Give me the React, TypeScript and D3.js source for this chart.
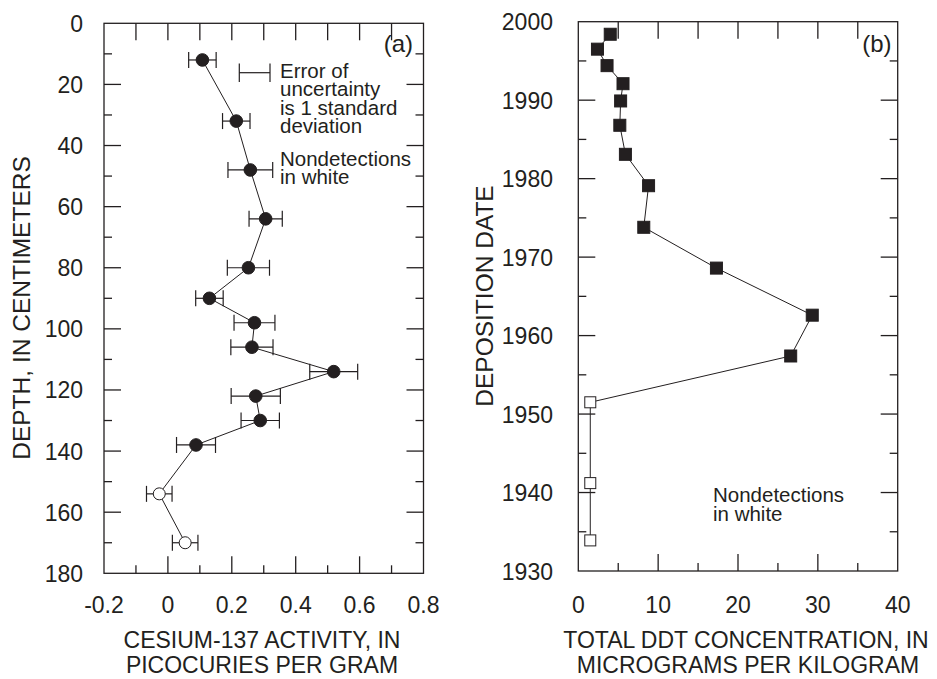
import React from "react";
import * as d3 from "d3";

// Panel (a) data
const depthA = [12, 32, 48, 64, 80, 90, 98, 106, 114, 122, 130, 138, 154, 170];
const cesium = [0.108, 0.214, 0.258, 0.306, 0.252, 0.13, 0.271, 0.263, 0.519, 0.275, 0.289, 0.088, -0.027, 0.054];
const cesiumErr = [0.043, 0.043, 0.07, 0.052, 0.066, 0.043, 0.064, 0.066, 0.075, 0.077, 0.06, 0.061, 0.04, 0.04];
const cesiumDetected = [true, true, true, true, true, true, true, true, true, true, true, true, false, false];
const xTicksA = [-0.2, 0, 0.2, 0.4, 0.6, 0.8];
const yTicksA = [0, 20, 40, 60, 80, 100, 120, 140, 160, 180];

// Panel (b) data
const years = [1998.4, 1996.5, 1994.4, 1992.1, 1989.9, 1986.8, 1983.1, 1979.1, 1973.8, 1968.6, 1962.6, 1957.4, 1951.5, 1941.2, 1933.9];
const ddt = [4.0, 2.4, 3.6, 5.6, 5.3, 5.2, 5.9, 8.8, 8.2, 17.3, 29.3, 26.6, 1.5, 1.5, 1.5];
const ddtDetected = [true, true, true, true, true, true, true, true, true, true, true, true, false, false, false];
const xTicksB = [0, 10, 20, 30, 40];
const yTicksB = [1930, 1940, 1950, 1960, 1970, 1980, 1990, 2000];

const legendA1 = ["Error of", "uncertainty", "is 1 standard", "deviation"];
const legendNd = ["Nondetections", "in white"];

const C = "#231f20";
const FONT = "'Liberation Sans', Arial, Helvetica, sans-serif";

const A = { left: 104, right: 423.5, top: 23.3, bottom: 573.3 };
const B = { left: 578.3, right: 897.7, top: 21.7, bottom: 571 };

function Lines({ x, y, lines, dy }: { x: number; y: number; lines: string[]; dy: number }) {
  return (
    <text x={x} y={y}>
      {lines.map((l, i) => (
        <tspan key={i} x={x} dy={i === 0 ? 0 : dy}>
          {l}
        </tspan>
      ))}
    </text>
  );
}

export default function App() {
  const xa = d3.scaleLinear().domain([-0.2, 0.8]).range([A.left, A.right]);
  const ya = d3.scaleLinear().domain([0, 180]).range([A.top, A.bottom]);
  const xb = d3.scaleLinear().domain([0, 40]).range([B.left, B.right]);
  const yb = d3.scaleLinear().domain([1930, 2000]).range([B.bottom, B.top]);

  const lineA = d3.line<number>().x((_, i) => xa(cesium[i])).y((d) => ya(d));
  const lineB = d3.line<number>().x((_, i) => xb(ddt[i])).y((d) => yb(d));

  const near = (a: number, b: number) => Math.abs(a - b) < 1e-6;

  const xMinorA = d3.range(-0.1, 0.75, 0.1);
  const yMinorA = d3.range(10, 180, 10);
  const xMinorB = d3.range(5, 40, 5);
  const yMinorB = d3.range(1935, 2000, 5);

  return (
    <svg
      width={937}
      height={679}
      style={{ position: "absolute", left: 0, top: 0, background: "#fff" }}
      fontFamily={FONT}
    >
      <rect x={0} y={0} width={937} height={679} fill="#fff" />
      {/* ---------- Panel (a) ---------- */}
      <g stroke={C} strokeWidth={1.3} fill="none">
        <rect x={A.left} y={A.top} width={A.right - A.left} height={A.bottom - A.top} />
        {xMinorA.map((v, i) => {
          const major = xTicksA.some((t) => near(t, v));
          const x = xa(v);
          return (
            <g key={"xa" + i}>
              <line x1={x} x2={x} y1={A.top} y2={A.top + 17} />
              <line x1={x} x2={x} y1={A.bottom} y2={A.bottom - (major ? 17 : 8)} />
            </g>
          );
        })}
        {yMinorA.map((v, i) => {
          const major = yTicksA.some((t) => near(t, v));
          const y = ya(v);
          const len = major ? 17 : 8;
          return (
            <g key={"ya" + i}>
              <line x1={A.left} x2={A.left + len} y1={y} y2={y} />
              <line x1={A.right} x2={A.right - len} y1={y} y2={y} />
            </g>
          );
        })}
      </g>
      <g fill={C} fontSize={23}>
        {xTicksA.map((t) => (
          <text key={"xl" + t} x={xa(t)} y={613} textAnchor="middle">
            {String(Math.round(t * 10) / 10)}
          </text>
        ))}
        {yTicksA.map((t) => (
          <text key={"yl" + t} x={83} y={ya(t) + 8.5} textAnchor="end">
            {t}
          </text>
        ))}
        <text x={262} y={648} textAnchor="middle">CESIUM-137 ACTIVITY, IN</text>
        <text x={262} y={673} textAnchor="middle">PICOCURIES PER GRAM</text>
        <text transform={`translate(30,308) rotate(-90)`} textAnchor="middle" fontSize={24.5}>
          DEPTH, IN CENTIMETERS
        </text>
        <text x={413} y={52} textAnchor="end" fontSize={24}>(a)</text>
      </g>
      {/* legend a */}
      <g stroke={C} strokeWidth={1.2}>
        <line x1={239.3} x2={270} y1={72.7} y2={72.7} />
        <line x1={239.3} x2={239.3} y1={63.5} y2={82} />
        <line x1={270} x2={270} y1={63.5} y2={82} />
      </g>
      <g fill={C} fontSize={20.5}>
        <Lines x={280} y={78} lines={legendA1} dy={18.3} />
        <Lines x={280} y={165.5} lines={legendNd} dy={18} />
      </g>
      {/* data a */}
      <path d={lineA(depthA) || ""} fill="none" stroke={C} strokeWidth={1} />
      <g stroke={C} strokeWidth={1.2}>
        {depthA.map((d, i) => {
          const y = ya(d);
          const x1 = xa(cesium[i] - cesiumErr[i]);
          const x2 = xa(cesium[i] + cesiumErr[i]);
          return (
            <g key={"eb" + i}>
              <line x1={x1} x2={x2} y1={y} y2={y} />
              <line x1={x1} x2={x1} y1={y - 8} y2={y + 8} />
              <line x1={x2} x2={x2} y1={y - 8} y2={y + 8} />
            </g>
          );
        })}
      </g>
      {depthA.map((d, i) => (
        <circle
          key={"pa" + i}
          cx={xa(cesium[i])}
          cy={ya(d)}
          r={cesiumDetected[i] ? 6.3 : 6}
          fill={cesiumDetected[i] ? C : "#fff"}
          stroke={C}
          strokeWidth={1}
        />
      ))}

      {/* ---------- Panel (b) ---------- */}
      <g stroke={C} strokeWidth={1.3} fill="none">
        <rect x={B.left} y={B.top} width={B.right - B.left} height={B.bottom - B.top} />
        {xMinorB.map((v, i) => {
          const major = xTicksB.some((t) => near(t, v));
          const x = xb(v);
          return (
            <g key={"xb" + i}>
              <line x1={x} x2={x} y1={B.top} y2={B.top + 17} />
              <line x1={x} x2={x} y1={B.bottom} y2={B.bottom - (major ? 17 : 8)} />
            </g>
          );
        })}
        {yMinorB.map((v, i) => {
          const major = yTicksB.some((t) => near(t, v));
          const y = yb(v);
          const len = major ? 17 : 8;
          return (
            <g key={"yb" + i}>
              <line x1={B.left} x2={B.left + len} y1={y} y2={y} />
              <line x1={B.right} x2={B.right - len} y1={y} y2={y} />
            </g>
          );
        })}
      </g>
      <g fill={C} fontSize={23}>
        {xTicksB.map((t) => (
          <text key={"xbl" + t} x={xb(t)} y={613} textAnchor="middle">
            {t}
          </text>
        ))}
        {yTicksB.map((t) => (
          <text key={"ybl" + t} x={553} y={yb(t) + 8.5} textAnchor="end">
            {t}
          </text>
        ))}
        <text x={746} y={648} textAnchor="middle">TOTAL DDT CONCENTRATION, IN</text>
        <text x={748} y={673} textAnchor="middle">MICROGRAMS PER KILOGRAM</text>
        <text transform={`translate(493,296) rotate(-90)`} textAnchor="middle" fontSize={24.5}>
          DEPOSITION DATE
        </text>
        <text x={891.5} y={52} textAnchor="end" fontSize={24}>(b)</text>
      </g>
      <g fill={C} fontSize={20.5}>
        <Lines x={713} y={502} lines={legendNd} dy={18.5} />
      </g>
      <path d={lineB(years) || ""} fill="none" stroke={C} strokeWidth={1} />
      {years.map((yr, i) => {
        const s = ddtDetected[i] ? 12 : 11;
        return (
          <rect
            key={"pb" + i}
            x={xb(ddt[i]) - s / 2}
            y={yb(yr) - s / 2}
            width={s}
            height={s}
            fill={ddtDetected[i] ? C : "#fff"}
            stroke={C}
            strokeWidth={1}
          />
        );
      })}
    </svg>
  );
}
